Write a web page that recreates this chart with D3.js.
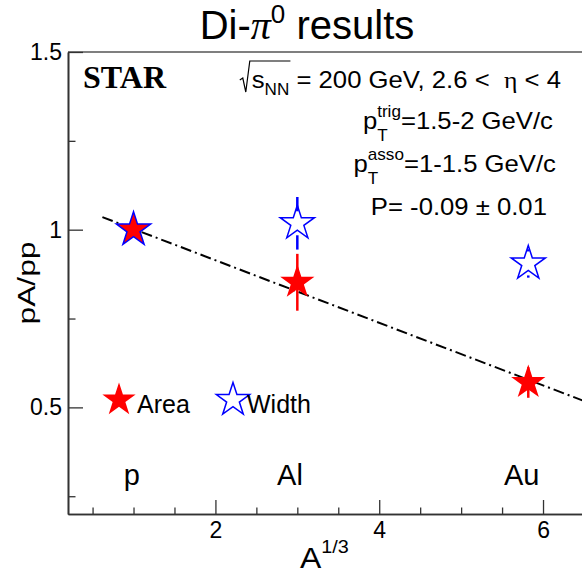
<!DOCTYPE html>
<html><head><meta charset="utf-8">
<script src="https://cdn.jsdelivr.net/npm/d3@7"></script>
<style>body{margin:0;background:#fff} svg{display:block} text{white-space:pre}</style>
</head><body>
<svg id="c" width="582" height="574"></svg>
<script>
// ---------------- data ----------------
const nuclei      = ["p", "Al", "Au"];
const aThird      = [1.0, 3.0, 5.82];
const areaRatio   = [1.0, 0.852, 0.570];
const areaErr     = [0.0, 0.080, 0.043];
const widthRatio  = [1.0, 1.018, 0.905];
const widthErr    = [0.0, 0.074, 0.040];
const fitIntercept = 1.09;
const fitSlope     = -0.088;
const fitRange     = [0.62, 6.8];
const labelX      = [0.98, 2.91, 5.74];
const xMajorTicks = [2, 4, 6];
const xMinorTicks = [0.5, 1, 1.5, 2.5, 3, 3.5, 4.5, 5, 5.5, 6.5];
const yMajorTicks = [0.5, 1, 1.5];
const yMinorTicks = [0.25, 0.75, 1.25];
const seriesNames = ["Area", "Width"];

// ---------------- layout ----------------
const SANS = "'Liberation Sans', Arial, sans-serif";
const SERIF = "'Liberation Serif', 'Times New Roman', serif";
const AX = "#333";
const svg = d3.select("#c");
const x = d3.scaleLinear().domain([0.2, 7.0]).range([68, 68 + 6.8 * 81.9]);
const y = d3.scaleLinear().domain([0.2, 1.5]).range([514, 514 - 1.3 * 355.4]);
const [x0] = x.range();
const [yb, yt] = y.range();

// rich text helper (sx = horizontal stretch)
function rich(parent, px, py, segs, anchor, sx) {
  sx = sx || 1;
  const g = parent.append("g");
  let cx = 0;
  const mk = (s, xx) => g.append("text")
    .attr("x", xx).attr("y", s.dy || 0)
    .attr("font-family", s.family || SANS).attr("font-size", s.size)
    .attr("font-weight", s.weight || "normal").attr("font-style", s.style || "normal")
    .attr("fill", "#000").text(s.t);
  for (const s of segs) {
    if (s.stack) {
      let w = 0;
      for (const ss of s.stack) w = Math.max(w, mk(ss, cx).node().getComputedTextLength());
      cx += w;
    } else {
      const t = mk(s, cx);
      s.x0 = cx;
      cx += t.node().getComputedTextLength() + (s.gap || 0);
      s.x1 = cx;
    }
  }
  const w = cx * sx;
  const off = anchor === "middle" ? -w / 2 : anchor === "end" ? -w : 0;
  g.attr("transform", `translate(${px + off},${py}) scale(${sx},1)`);
  return { g, width: w, left: px + off, sx };
}

// ---------------- frame & axes ----------------
svg.append("line").attr("x1", x0).attr("x2", 600).attr("y1", yt).attr("y2", yt)
  .attr("stroke", "#555").attr("stroke-width", 1.5);

const gx = svg.append("g").attr("transform", `translate(0,${yb})`);
gx.call(d3.axisBottom(x).tickValues(xMinorTicks).tickSizeInner(-6.5).tickSizeOuter(0).tickFormat(""));
gx.append("g").call(d3.axisBottom(x).tickValues(xMajorTicks).tickSizeInner(-14).tickSizeOuter(0).tickPadding(8)
  .tickFormat(d => String(d)));
const gy = svg.append("g").attr("transform", `translate(${x0},0)`);
gy.call(d3.axisLeft(y).tickValues(yMinorTicks).tickSizeInner(-7.5).tickSizeOuter(0).tickFormat(""));
gy.append("g").call(d3.axisLeft(y).tickValues(yMajorTicks).tickSizeInner(-15).tickSizeOuter(0).tickPadding(6)
  .tickFormat(d => String(d)));
svg.selectAll(".domain").attr("stroke", AX).attr("stroke-width", 1.6);
svg.selectAll(".tick line").attr("stroke", AX).attr("stroke-width", 1.3);
svg.selectAll(".tick text").attr("font-family", SANS).attr("font-size", 23).attr("fill", "#000");

// axis titles
rich(svg, 300, 568, [{ t: "A", size: 29 }, { t: "1/3", size: 18, dy: -15, gap: 0 }], "start", 1.1);
svg.append("text").attr("transform", "translate(35,283) rotate(-90)")
  .attr("text-anchor", "middle").attr("font-family", SANS).attr("font-size", 23)
  .attr("textLength", 83).attr("lengthAdjust", "spacingAndGlyphs").text("pA/pp");

// title
rich(svg, 307, 39, [
  { t: "Di-", size: 40 },
  { t: "\u03C0", size: 40, family: SERIF, style: "italic" },
  { t: "0", size: 26, dy: -16 },
  { t: " results", size: 40 }
], "middle");

// nucleus labels
svg.append("g").selectAll("text").data(nuclei).join("text")
  .attr("x", (d, i) => x(labelX[i])).attr("y", 485).attr("text-anchor", "middle")
  .attr("font-family", SANS).attr("font-size", 29).text(d => d);

// ---------------- text block ----------------
svg.append("text").attr("x", 83).attr("y", 88).attr("font-family", SERIF)
  .attr("font-weight", "bold").attr("font-size", 32).text("STAR");

const SX = 1.07;
const l1segs = [
  { t: "s", size: 24 },
  { t: "NN", size: 16, dy: 7 },
  { t: " = 200 GeV, 2.6 <  ", size: 24 },
  { t: "\u03B7", size: 24, family: SERIF },
  { t: " < 4", size: 24 }
];
const l1 = rich(svg, 561, 88, l1segs, "end", SX);
// radical sign
const sL = l1.left, rx = l1.left + (l1segs[1].x1 + 1) * SX;
svg.append("path")
  .attr("d", `M${sL - 12},80 L${sL - 9},78 L${sL - 6},92 L${sL - 2},61 L${rx},61`)
  .attr("fill", "none").attr("stroke", "#000").attr("stroke-width", 1.2);

rich(svg, 553, 129, [
  { t: "p", size: 24 },
  { stack: [{ t: "trig", size: 16, dy: -12 }, { t: "T", size: 16, dy: 12 }] },
  { t: "=1.5-2 GeV/c", size: 24 }
], "end", SX);
rich(svg, 556, 172, [
  { t: "p", size: 24 },
  { stack: [{ t: "asso", size: 16, dy: -12 }, { t: "T", size: 16, dy: 12 }] },
  { t: "=1-1.5 GeV/c", size: 24 }
], "end", SX);
rich(svg, 547, 215, [{ t: "P= -0.09 \u00B1 0.01", size: 24 }], "end", SX);

// ---------------- fit line ----------------
svg.append("line")
  .attr("x1", x(fitRange[0])).attr("y1", y(fitIntercept + fitSlope * fitRange[0]))
  .attr("x2", x(fitRange[1])).attr("y2", y(fitIntercept + fitSlope * fitRange[1]))
  .attr("stroke", "#000").attr("stroke-width", 2).attr("stroke-dasharray", "11,4,2,4");

// ---------------- markers ----------------
const R = 18, Rleg = 17.5;
const starSize = r => r * r / 0.8908130915292852;
const star = r => d3.symbol(d3.symbolStar, starSize(r))();
const idx = d3.range(nuclei.length);

// area (filled red)
const ga = svg.append("g");
ga.selectAll("line").data(idx.filter(i => areaErr[i] > 0)).join("line")
  .attr("x1", i => x(aThird[i])).attr("x2", i => x(aThird[i]))
  .attr("y1", i => y(areaRatio[i] + areaErr[i])).attr("y2", i => y(areaRatio[i] - areaErr[i]))
  .attr("stroke", "#f00").attr("stroke-width", 2.5);
ga.selectAll("path").data(idx).join("path")
  .attr("d", star(R)).attr("transform", i => `translate(${x(aThird[i])},${y(areaRatio[i])})`)
  .attr("fill", "#f00");

// width (open blue) — error bars with gap around marker
const gw = svg.append("g");
const gap = 12;
idx.filter(i => widthErr[i] > 0).forEach(i => {
  const cx = x(aThird[i]), cy = y(widthRatio[i]);
  const top = y(widthRatio[i] + widthErr[i]), bot = y(widthRatio[i] - widthErr[i]);
  if (cy - gap > top) gw.append("line").attr("x1", cx).attr("x2", cx).attr("y1", top).attr("y2", cy - gap)
    .attr("stroke", "#00f").attr("stroke-width", 2.5);
  if (cy + gap < bot) gw.append("line").attr("x1", cx).attr("x2", cx).attr("y1", cy + gap).attr("y2", bot)
    .attr("stroke", "#00f").attr("stroke-width", 2.5);
});
gw.selectAll("path").data(idx).join("path")
  .attr("d", star(R)).attr("transform", i => `translate(${x(aThird[i])},${y(widthRatio[i])})`)
  .attr("fill", "none").attr("stroke", "#00f").attr("stroke-width", 1.5);

// ---------------- legend ----------------
const legX = [119, 233], legTextX = [137, 247];
const lg = svg.append("g");
seriesNames.forEach((n, i) => {
  lg.append("path").attr("d", star(Rleg)).attr("transform", `translate(${legX[i]},400)`)
    .attr("fill", i === 0 ? "#f00" : "none").attr("stroke", i === 0 ? "none" : "#00f").attr("stroke-width", 1.5);
  lg.append("text").attr("x", legTextX[i]).attr("y", 413).attr("font-family", SANS)
    .attr("font-size", 25).text(n);
});
</script>
</body></html>
